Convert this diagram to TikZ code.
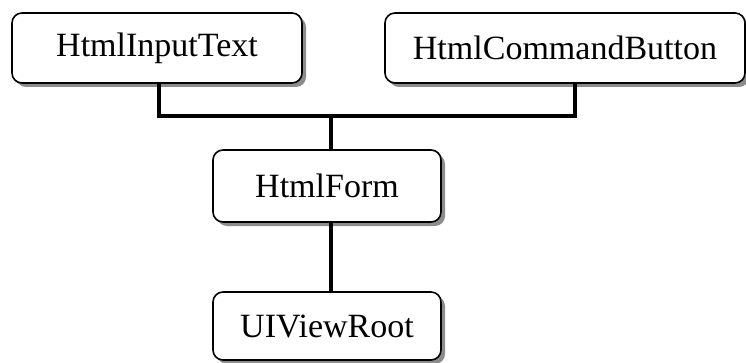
\documentclass[tikz,border=0pt]{standalone}
\usepackage{fontspec}
\setmainfont{Liberation Serif}
\usetikzlibrary{shadows}
\begin{document}
\begin{tikzpicture}[x=1pt,y=1pt,
  box/.style={draw, line width=1.6pt, rounded corners=10pt, fill=white,
    inner sep=0pt, font=\fontsize{34}{40}\selectfont,
    drop shadow={shadow xshift=4pt, shadow yshift=-4pt, fill=black!45, opacity=1}},
  conn/.style={line width=3.6pt, line join=miter}]
\useasboundingbox (0,0) rectangle (746,362);
\node[box, minimum width=290pt, minimum height=70pt] (A) at (157,314) {HtmlInputText};
\node[box, minimum width=360pt, minimum height=70pt] (B) at (565,314) {HtmlCommandButton};
\node[box, minimum width=228pt, minimum height=72pt] (C) at (327,176) {HtmlForm};
\node[box, minimum width=228pt, minimum height=68pt] (D) at (327,36) {UIViewRoot};
\coordinate (j) at (331,246);
\draw[conn] ([xshift=2pt]A.south) |- (j) -| ([xshift=10pt]B.south);
\draw[conn] (j) -- (C.north -| j);
\draw[conn] (C.south -| j) -- (D.north -| j);
\end{tikzpicture}
\end{document}
